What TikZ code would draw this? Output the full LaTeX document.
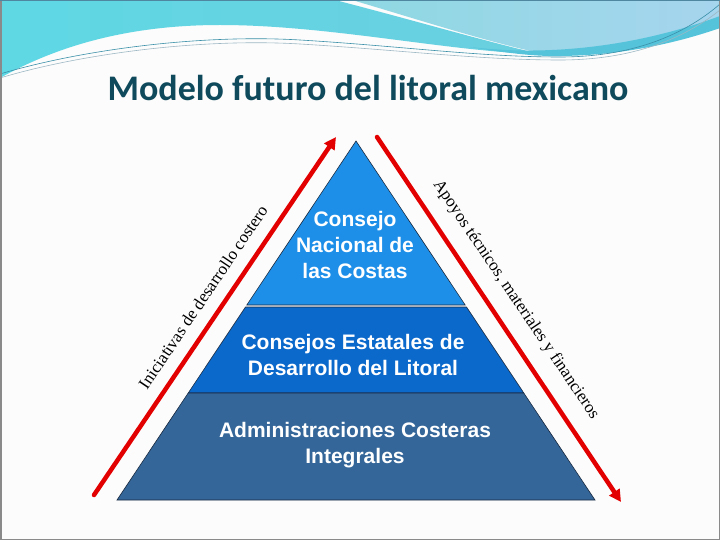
\documentclass[tikz,border=0pt]{standalone}
\usepackage{fontspec}
\setmainfont{Liberation Serif}
\newfontfamily\arialfont{Liberation Sans}
\newfontfamily\calfont{Carlito}
\usetikzlibrary{arrows.meta}
\definecolor{tierA}{HTML}{1E8FE8}
\definecolor{tierB}{HTML}{0B69CC}
\definecolor{tierC}{HTML}{346699}
\definecolor{edgec}{HTML}{1A2A40}
\definecolor{redarr}{HTML}{E30000}
\definecolor{titlec}{HTML}{0F4A5C}
\definecolor{bandL1}{HTML}{5FD8E4}
\definecolor{bandL2}{HTML}{88BFD8}
\definecolor{bandL3}{HTML}{6ACFE0}
\definecolor{bandR1}{HTML}{8ED8E2}
\definecolor{bandR2}{HTML}{A6D5EE}
\definecolor{bandD}{HTML}{55C3DA}
\definecolor{decoA}{HTML}{3B8FA8}
\definecolor{decoB}{HTML}{9DB8C4}
\definecolor{framec}{HTML}{8A8A8A}
\definecolor{topline}{HTML}{4F87A0}
\tikzset{
  tier/.style={draw=edgec, line width=0.6pt},
  tiertext/.style={text=white, font=\arialfont\bfseries\fontsize{21}{26}\selectfont, align=center, inner sep=0pt},
  redline/.style={draw=redarr, line width=4.5pt, line cap=round},
  redtip/.style={-{Triangle[length=12pt,width=12pt]}},
  sidetext/.style={font=\fontsize{17}{20}\selectfont, text=black, inner sep=0pt},
  decoline/.style={line width=0.6pt}
}
\begin{document}
\begin{tikzpicture}[x=1pt,y=-1pt]
\useasboundingbox (0,0) rectangle (720,540);
\fill[white!98!gray] (0,0) rectangle (720,540);
% top decoration: left part of the band
\shade[left color=bandL1, middle color=bandL2, right color=bandL3]
  (0,0) -- (335,0) .. controls (420,22) and (480,40) .. (540,54)
  .. controls (450,52) and (330,25) .. (220,25)
  .. controls (120,25) and (50,50) .. (0,78) -- cycle;
% right part of the band
\shade[left color=bandR1, right color=bandR2]
  (352,0) -- (720,0) -- (720,28) .. controls (680,40) and (620,55) .. (548,55)
  .. controls (480,40) and (420,20) .. (352,0) -- cycle;
% darker stripe along the lower right edge
\fill[bandD]
  (470,47) .. controls (560,58) and (650,42) .. (720,16) -- (720,28)
  .. controls (680,42) and (620,57) .. (548,56) .. controls (520,55) and (495,51) .. (470,47) -- cycle;
% thin decorative lines
\draw[decoline, decoA] (0,74) .. controls (80,50) and (200,34) .. (300,40)
  .. controls (400,46) and (480,57) .. (560,57) .. controls (640,57) and (690,30) .. (720,4);
\draw[decoline, decoB] (0,78) .. controls (80,54) and (200,38) .. (300,44)
  .. controls (400,50) and (480,60) .. (560,60) .. controls (640,60) and (690,34) .. (720,10);
% frame
\draw[framec, line width=1.5pt] (0.75,0.75) rectangle (719.25,539.25);
\draw[topline, line width=1.5pt] (0,0.75) -- (720,0.75);
% title
\node[font=\calfont\bfseries\fontsize{36}{40}\selectfont, text=titlec, inner sep=0pt] (title) at (368,88) {Modelo futuro del litoral mexicano};
% pyramid
\filldraw[tier, fill=tierA] (356,141) -- (465.2,305) -- (246.8,305) -- cycle;
\filldraw[tier, fill=tierB] (245.5,307) -- (466.5,307) -- (523.8,393) -- (188.2,393) -- cycle;
\filldraw[tier, fill=tierC] (188.2,393) -- (523.8,393) -- (595,500) -- (117,500) -- cycle;
\node[tiertext] (cnc) at (355,245) {Consejo\\Nacional de\\las Costas};
\node[tiertext] (ced) at (353,355) {Consejos Estatales de\\Desarrollo del Litoral};
\node[tiertext] (aci) at (355,445) {Administraciones Costeras\\Integrales};
% arrows
\coordinate (la0) at (94,495);
\coordinate (la1) at (336,137);
\coordinate (ra0) at (377,137);
\coordinate (ra1) at (621,502);
\draw[redline, redtip] (la0) -- (la1);
\draw[redline, redtip] (ra0) -- (ra1);
% side texts
\node[sidetext, rotate=56] (ini) at (203,297) {Iniciativas de desarrollo costero};
\node[sidetext, rotate=-56] (apo) at (516,300) {Apoyos técnicos, materiales y financieros};
\end{tikzpicture}
\end{document}
